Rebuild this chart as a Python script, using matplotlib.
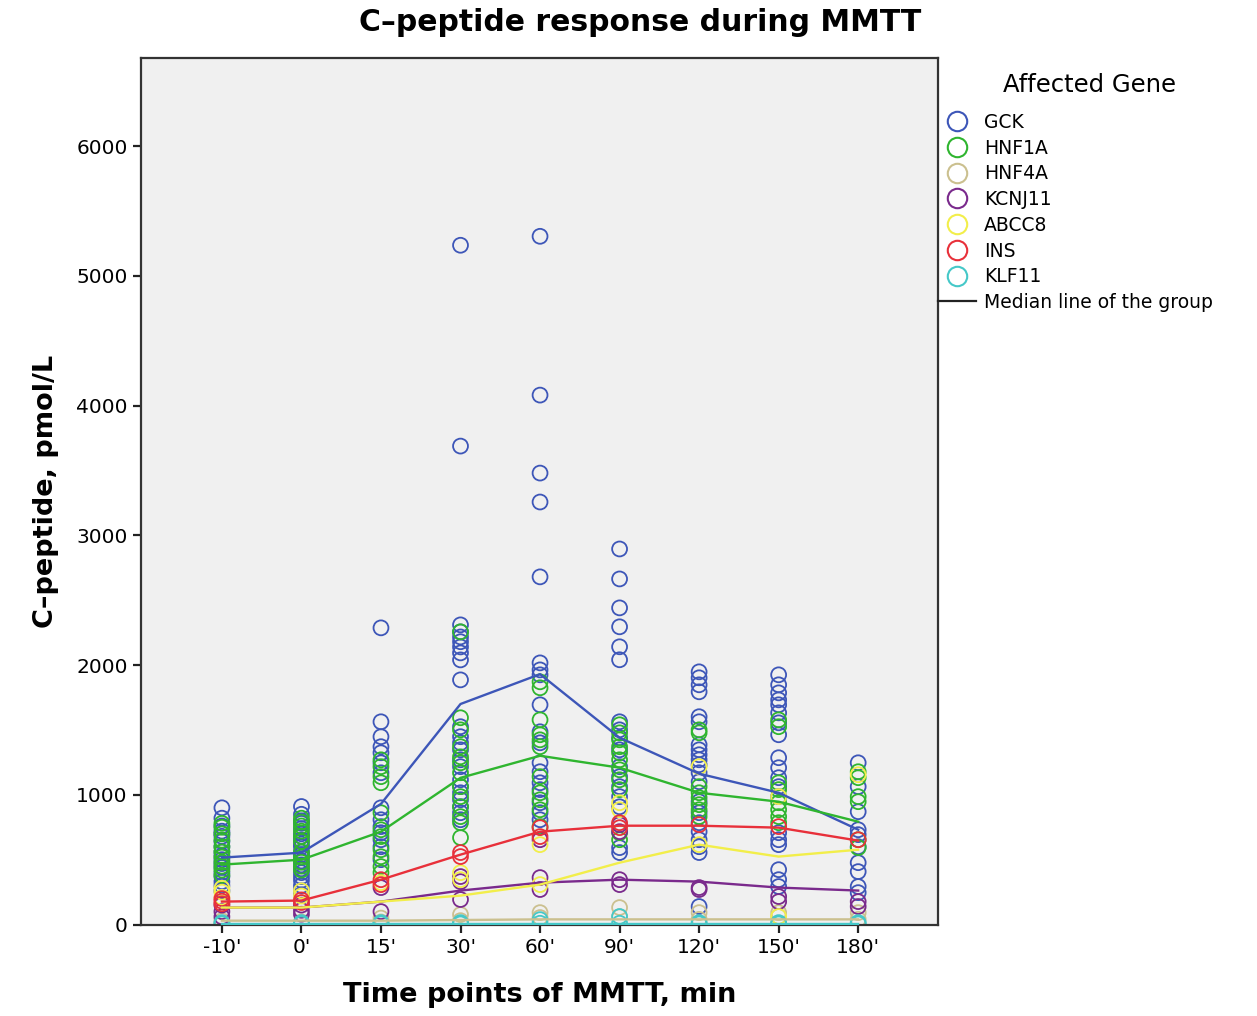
import numpy as np
import matplotlib
matplotlib.use("Agg")
import matplotlib.pyplot as plt
from matplotlib.lines import Line2D

# time points of the test
time_labels = ["-10'", "0'", "15'", "30'", "60'", "90'", "120'", "150'", "180'"]

genes = ["GCK", "HNF1A", "HNF4A", "KCNJ11", "ABCC8", "INS", "KLF11"]
gene_colors = ["#3d56b8", "#2fb52f", "#cbc08f", "#7a2a8c", "#f2ee4a", "#e8303a", "#45c8c8"]

# individual C-peptide values (pmol/L), one list per time point
gck_points = [
    [900, 820, 760, 720, 700, 680, 640, 600, 560, 530, 500, 470, 440, 400, 370, 330, 300, 260],
    [910, 850, 800, 780, 740, 700, 680, 650, 620, 600, 560, 540, 520, 490, 460, 430, 400, 370, 340, 300, 260, 230],
    [2287, 1563, 1448, 1371, 1324, 1247, 1170, 900, 808, 755, 708, 654, 600, 500],
    [5236, 3688, 2310, 2256, 2217, 2180, 2140, 2094, 2040, 1886, 1525, 1448, 1401, 1347, 1270,
     1217, 1116, 1063, 1016, 962, 908, 862, 808],
    [5305, 4081, 3480, 3257, 2680, 2017, 1963, 1925, 1694, 1486, 1401, 1247, 1178, 1093, 1040,
     939, 862, 808],
    [2895, 2664, 2441, 2295, 2141, 2041, 1563, 1501, 1440, 1347, 1217, 1140, 1063, 986, 908, 593, 555],
    [1948, 1902, 1848, 1794, 1602, 1563, 1386, 1347, 1309, 1270, 1232, 1170, 1101, 947, 862, 785,
     716, 654, 600, 555, 139],
    [1925, 1848, 1786, 1732, 1694, 1632, 1555, 1463, 1286, 1209, 1132, 1063, 986, 708, 654, 616,
     423, 346, 293],
    [1247, 1063, 870, 731, 693, 600, 477, 408, 293, 246],
]
hnf1a_points = [
    [780, 750, 700, 650, 600, 560, 520, 480, 450, 420, 380],
    [820, 790, 760, 720, 680, 640, 560, 520, 480, 450, 420],
    [1270, 1217, 1140, 1093, 862, 731, 678, 577, 523, 447, 400],
    [2256, 1594, 1501, 1371, 1293, 1247, 1170, 1063, 986, 908, 832, 785, 670],
    [1871, 1825, 1578, 1463, 1424, 1371, 1140, 1016, 962, 885, 755],
    [1540, 1478, 1424, 1371, 1324, 1270, 1193, 1116, 1040, 708, 654],
    [1501, 1478, 1063, 1016, 978, 924, 885, 832],
    [1578, 1525, 1093, 1040, 939, 885, 832, 785],
    [1178, 1132, 986, 947, 654, 593],
]
hnf4a_points = [
    [30, 10], [20, 5], [50, 20], [77, 30], [92, 54], [131, 60], [92, 40], [92, 62], [92, 40],
]
kcnj11_points = [
    [150, 100, 60], [150, 110, 80], [285, 100], [370, 331, 193], [654, 362, 270],
    [770, 716, 346, 308], [285, 270], [216, 177], [177, 139],
]
abcc8_points = [
    [280, 250, 210], [260, 220], [323], [400, 346], [616, 308], [939, 885], [1217, 616],
    [986, 62], [1155],
]
ins_points = [
    [180, 160, 200], [190, 170], [346, 308], [555, 524], [747, 678], [785, 747], [770],
    [755], [654],
]
klf11_points = [
    [15, 5], [15, 5], [15, 5], [15, 5], [38, 10], [62, 10], [15, 5], [15, 5], [15, 5],
]

# group medians per time point
gck_median = [516, 554, 930, 1700, 1930, 1440, 1163, 1016, 731]
hnf1a_median = [462, 500, 716, 1131, 1301, 1209, 1016, 947, 793]
hnf4a_median = [30, 30, 30, 35, 40, 40, 40, 40, 40]
kcnj11_median = [131, 131, 177, 262, 323, 346, 331, 285, 262]
abcc8_median = [131, 131, 177, 223, 308, 477, 616, 524, 577]
ins_median = [177, 185, 346, 539, 716, 762, 762, 747, 647]
klf11_median = [5, 5, 5, 5, 5, 5, 5, 5, 5]

all_points = [gck_points, hnf1a_points, hnf4a_points, kcnj11_points,
              abcc8_points, ins_points, klf11_points]
all_medians = [gck_median, hnf1a_median, hnf4a_median, kcnj11_median,
               abcc8_median, ins_median, klf11_median]

fig = plt.figure(figsize=(12.57, 10.16), dpi=100)
ax = fig.add_axes([0.112, 0.090, 0.634, 0.853])
ax.set_facecolor("#f0f0f0")

x_pos = np.arange(len(time_labels))

for pts, col in zip(all_points, gene_colors):
    for i, vals in enumerate(pts):
        ax.scatter([x_pos[i]] * len(vals), vals, s=115, facecolors="none",
                   edgecolors=col, linewidths=1.3, zorder=2)

for med, col in zip(all_medians, gene_colors):
    ax.plot(x_pos, med, color=col, lw=1.7, zorder=3)

ax.set_xlim(-1.02, 9.0)
ax.set_ylim(0, 6680)
ax.set_xticks(x_pos)
ax.set_xticklabels(time_labels, fontsize=14.5)
ax.set_yticks(np.arange(0, 6001, 1000))
ax.set_yticklabels([str(v) for v in range(0, 6001, 1000)], fontsize=14.5)
ax.tick_params(axis="both", direction="out", length=6, width=1.6, color="#222222")

for sp in ax.spines.values():
    sp.set_linewidth(1.6)
    sp.set_color("#333333")

fig.text(0.509, 0.978, "C\u2013peptide response during MMTT", fontsize=21.5,
         fontweight="bold", ha="center", va="center")
ax.set_xlabel("Time points of MMTT, min", fontsize=19.5, fontweight="bold", labelpad=18)
ax.set_ylabel("C\u2013peptide, pmol/L", fontsize=19.5, fontweight="bold", labelpad=12)

# legend
fig.text(0.867, 0.916, "Affected Gene", fontsize=17.5, ha="center", va="center")
handles = [Line2D([], [], ls="none", marker="o", markersize=14, markerfacecolor="none",
                  markeredgecolor=c, markeredgewidth=1.5) for c in gene_colors]
handles.append(Line2D([], [], color="#222222", lw=1.6))
labels = genes + ["Median line of the group"]
leg = fig.legend(handles, labels, loc="upper left", bbox_to_anchor=(0.7465, 0.889),
                 frameon=False, fontsize=13.5,
                 handlelength=2.0, handletextpad=0.42, labelspacing=0.36, borderaxespad=0,
                 borderpad=0)

fig.savefig("out.png", dpi=100)
